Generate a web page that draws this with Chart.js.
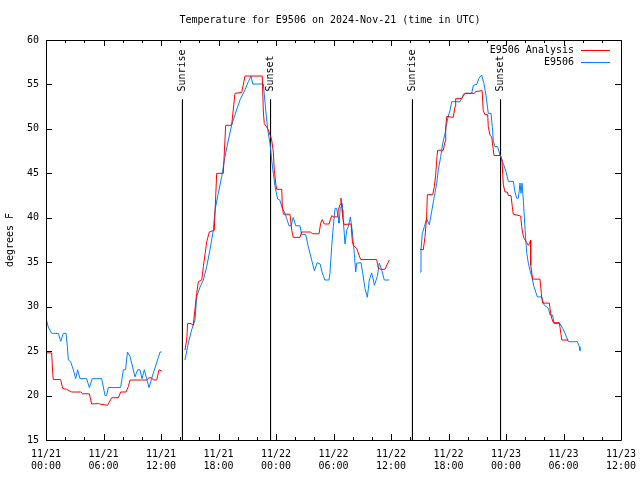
<!DOCTYPE html>
<html>
<head>
<meta charset="utf-8">
<script src="https://cdn.jsdelivr.net/npm/chart.js@4"></script>
<style>
  body { margin: 0; background: #fff; }
  canvas { display: block; }
</style>
</head>
<body>
<canvas id="graph" width="640" height="480"></canvas>
<script>
// hours since 11/21 00:00 UTC, null temp = gap in the record
const analysisHours = [
  0.0, 0.59, 0.7, 0.76, 1.53, 1.74, 2.16, 2.68, 3.62, 3.83, 4.52, 4.76, 5.46, 5.63, 6.43, 6.85, 7.55, 7.79,
  8.35, 8.59, 8.77, 9.98, 10.5, 10.75, 11.02, 11.2, 11.55, 11.79, 12.07,
  13.0,
  14.5, 14.68, 14.78, 15.13, 15.37, 15.72, 15.9, 16.25, 16.42, 16.77, 17.04, 17.56, 17.81, 18.5, 18.75, 19.37,
  19.72, 20.42, 20.77, 22.57, 22.68, 22.78, 23.2, 23.55, 23.72, 23.82, 23.97, 24.07, 24.6, 24.66, 24.77, 25.46,
  25.64, 25.8, 26.5, 26.68, 27.62, 27.8, 28.49, 28.66, 28.83, 29.04, 29.53, 29.81, 29.98, 30.43, 30.5, 30.68,
  30.78, 30.89, 30.96, 31.1, 31.83, 31.97, 32.07, 32.42, 32.66, 32.84, 34.5, 34.68, 34.96, 35.37, 35.62, 35.82,
  37.0,
  39.03, 39.37, 39.55, 39.72, 39.79, 40.35, 40.52, 40.66, 40.8, 40.87, 41.46, 41.64, 41.71, 41.82, 42.5, 42.68,
  42.75, 43.38, 43.55, 43.8, 44.7, 44.83, 45.51, 45.62, 45.8, 46.09, 46.15, 46.33, 46.5, 46.75, 47.44, 47.58,
  47.65, 47.72, 47.9, 48.14, 48.24, 48.52, 48.66, 48.76, 49.53, 49.64, 49.74, 49.88, 50.17, 50.33, 50.43, 50.57,
  50.58, 50.68, 50.78, 51.55, 51.72, 51.83, 52.52, 52.66, 52.77, 52.94, 53.57, 53.72, 53.82, 54.51
];
const analysisTemps = [
  24.8, 24.8, 22.5, 21.8, 21.8, 20.8, 20.7, 20.4, 20.4, 20.2, 20.2, 19.05, 19.1, 19.05, 18.9, 19.75, 19.75, 20.4,
  20.4, 21.0, 21.75, 21.75, 21.75, 22.0, 22.0, 21.75, 21.75, 22.9, 22.75,
  null,
  25.1, 26.25, 28.1, 28.1, 27.9, 31.5, 32.8, 33.0, 34.5, 37.3, 38.4, 38.6, 45.0, 45.0, 50.4, 50.4,
  54.0, 54.1, 55.95, 55.95, 51.9, 50.6, 49.9, 48.75, 47.4, 45.4, 43.9, 43.2, 43.2, 41.3, 40.4, 40.4,
  38.6, 37.8, 37.8, 38.4, 38.4, 38.2, 38.2, 39.4, 39.8, 39.3, 39.3, 40.25, 40.1, 40.1, 40.9, 41.5,
  42.2, 40.9, 40.1, 39.25, 39.3, 37.3, 36.9, 36.55, 35.8, 35.3, 35.3, 34.3, 34.2, 34.2, 34.8, 35.25,
  null,
  36.45, 36.4, 37.9, 40.1, 42.6, 42.6, 43.5, 44.8, 46.9, 47.6, 47.6, 48.6, 50.25, 51.4, 51.3, 52.5,
  53.4, 53.4, 53.8, 54.0, 54.0, 54.2, 54.3, 52.1, 51.6, 51.6, 50.25, 49.3, 49.1, 47.0, 47.0, 46.5,
  45.0, 43.7, 42.9, 42.9, 42.5, 42.5, 41.25, 40.4, 40.2, 39.0, 38.25, 37.7, 37.2, 36.9, 37.1, 37.5,
  34.7, 33.9, 33.1, 33.1, 31.1, 30.4, 30.4, 29.25, 28.7, 28.2, 28.2, 27.0, 26.25, 26.25
];

const stationHours = [
  0.0, 0.24, 0.59, 1.29, 1.53, 1.81, 2.09, 2.23, 2.33, 2.57, 2.85, 3.1, 3.3, 3.55, 4.24, 4.52, 4.83, 5.81,
  6.16, 6.33, 6.5, 7.79, 8.07, 8.3, 8.5, 8.77, 9.29, 9.56, 9.81, 10.02, 10.26, 10.5, 10.75, 11.02, 11.9, 12.07,
  13.0,
  14.5, 14.85, 15.2, 15.55, 15.72, 16.07, 16.42, 16.77, 17.11, 17.46, 17.64, 17.98, 18.33, 18.68, 19.03, 19.37,
  19.72, 20.24, 20.77, 21.11, 21.4, 21.57, 22.68, 22.93, 23.14, 23.37, 23.55, 23.72, 23.9, 24.17, 24.4, 24.66,
  24.94, 25.12, 25.36, 25.57, 25.8, 26.06, 26.5, 26.68, 27.1, 27.37, 27.72, 28.0, 28.3, 28.6, 28.83, 29.1,
  29.53, 29.63, 29.81, 29.98, 30.16, 30.33, 30.5, 30.57, 30.71, 30.92, 31.02, 31.2, 31.38, 31.55, 31.76, 31.97,
  32.17, 32.32, 32.42, 32.87, 33.05, 33.29, 33.53, 33.74, 33.98, 34.16, 34.27, 34.57, 34.78, 35.03, 35.3, 35.82,
  37.0,
  39.03, 39.13, 39.27, 39.48, 39.72, 40.0, 40.24, 40.52, 40.77, 40.94, 41.19, 41.4, 41.64, 41.92, 42.16, 42.34,
  43.2, 43.65, 44.42, 44.59, 44.94, 45.18, 45.46, 45.7, 45.91, 46.15, 46.44, 46.57, 46.68, 46.85, 47.13, 47.37,
  47.72, 48.0, 48.24, 48.76, 48.94, 49.11, 49.29, 49.46, 49.57, 49.67, 49.81, 49.91, 50.06, 50.17, 50.33, 50.5,
  50.68, 50.92, 51.27, 51.72, 51.97, 52.42, 52.6, 52.87, 53.01, 53.64, 53.92, 54.16, 54.51, 55.44, 55.65, 55.72
];
const stationTemps = [
  28.7, 27.7, 27.0, 27.0, 26.1, 27.0, 27.0, 25.5, 24.0, 23.8, 22.9, 21.9, 22.9, 21.9, 21.9, 20.9, 21.9, 21.9,
  20.0, 20.0, 20.9, 20.9, 22.9, 22.9, 24.9, 24.4, 22.1, 22.9, 22.9, 21.9, 22.9, 21.9, 20.9, 21.9, 24.9, 24.9,
  null,
  24.0, 25.9, 27.4, 28.5, 31.1, 32.2, 33.0, 34.5, 36.4, 38.6, 40.9, 42.75, 44.6, 46.9, 48.75, 50.4,
  51.6, 53.25, 54.4, 55.3, 55.95, 55.05, 55.05, 52.1, 49.9, 48.4, 46.5, 45.0, 43.5, 42.1, 42.0, 41.06,
  40.5, 39.9, 39.1, 39.1, 40.05, 39.1, 39.1, 38.1, 38.1, 36.75, 35.25, 34.05, 34.95, 34.8, 33.8, 33.0,
  33.0, 33.75, 36.75, 39.0, 41.06, 41.06, 40.1, 39.4, 41.06, 41.6, 39.75, 37.05, 38.6, 39.0, 40.1, 38.4,
  36.0, 33.9, 34.9, 34.95, 33.75, 32.05, 31.05, 33.0, 33.8, 33.0, 32.4, 33.4, 34.9, 34.1, 33.0, 33.0,
  null,
  33.9, 36.4, 38.25, 39.0, 39.9, 39.2, 40.7, 42.4, 43.9, 45.4, 46.9, 48.4, 49.5, 51.2, 52.1, 53.06,
  53.06, 54.0, 54.0, 54.9, 55.0, 55.7, 56.06, 55.1, 53.8, 51.75, 51.75, 50.25, 48.6, 48.0, 48.0, 47.06,
  46.1, 45.2, 44.1, 44.1, 42.9, 42.2, 42.2, 43.9, 42.75, 43.9, 42.0, 40.1, 37.5, 36.0, 34.9, 34.1,
  33.4, 32.25, 31.1, 31.1, 30.2, 29.8, 29.06, 29.06, 28.1, 28.1, 27.55, 27.0, 26.06, 26.06, 25.5, 25.05
];

const sunLabels = ['Sunrise', 'Sunset', 'Sunrise', 'Sunset'];
const sunHours = [14.24, 23.43, 38.24, 47.43];
const sunLineTop = 53.3;

const xTickLabels = [
  ['11/21', '00:00'], ['11/21', '06:00'], ['11/21', '12:00'], ['11/21', '18:00'],
  ['11/22', '00:00'], ['11/22', '06:00'], ['11/22', '12:00'], ['11/22', '18:00'],
  ['11/23', '00:00'], ['11/23', '06:00'], ['11/23', '12:00']
];
const seriesNames = ['E9506 Analysis', 'E9506'];
const seriesColors = ['#ff0000', '#0080ff'];
const chartTitle = 'Temperature for E9506 on 2024-Nov-21 (time in UTC)';

const FONT = 'DejaVu Sans Mono';

function pairs(xs, ys) {
  return xs.map((x, i) => ({ x: x, y: ys[i] }));
}

const sunSets = sunHours.map(h => ({
  data: [{ x: h, y: sunLineTop }, { x: h, y: 15 }],
  borderColor: '#000',
  borderWidth: 1,
  pointRadius: 0,
}));

// gnuplot-like frame, inward ticks, title, legend and sun labels
const frame = {
  id: 'frame',
  afterDraw(chart) {
    const ctx = chart.ctx;
    const a = chart.chartArea;
    const xs = chart.scales.x, ys = chart.scales.y;
    ctx.save();
    ctx.strokeStyle = '#000';
    ctx.lineWidth = 1;
    ctx.beginPath();
    ctx.rect(Math.round(a.left) + 0.5, Math.round(a.top) + 0.5,
             Math.round(a.right - a.left), Math.round(a.bottom - a.top));
    for (let v = 15; v <= 60; v += 5) {
      const y = Math.round(ys.getPixelForValue(v)) + 0.5;
      ctx.moveTo(a.left, y); ctx.lineTo(a.left + 6, y);
      ctx.moveTo(a.right, y); ctx.lineTo(a.right - 6, y);
    }
    for (let h = 0; h <= 60; h += 2) {
      const x = Math.round(xs.getPixelForValue(h)) + 0.5;
      const len = h % 6 === 0 ? 6 : 3;
      ctx.moveTo(x, a.bottom); ctx.lineTo(x, a.bottom - len);
      ctx.moveTo(x, a.top); ctx.lineTo(x, a.top + len);
    }
    ctx.stroke();

    ctx.fillStyle = '#000';
    ctx.font = '10px "' + FONT + '"';
    ctx.textBaseline = 'middle';
    ctx.textAlign = 'center';
    ctx.fillText(chartTitle, 330, 20);

    // legend
    ctx.textAlign = 'right';
    seriesNames.forEach((name, i) => {
      const y = 50 + i * 12;
      ctx.fillStyle = '#000';
      ctx.fillText(name, 574, y);
      ctx.strokeStyle = seriesColors[i];
      ctx.beginPath();
      ctx.moveTo(581, y + 0.5); ctx.lineTo(610, y + 0.5);
      ctx.stroke();
    });

    // sunrise / sunset labels
    ctx.fillStyle = '#000';
    ctx.textAlign = 'left';
    sunHours.forEach((h, i) => {
      const x = xs.getPixelForValue(h);
      const y = ys.getPixelForValue(sunLineTop) - 8;
      ctx.save();
      ctx.translate(x, y);
      ctx.rotate(-Math.PI / 2);
      ctx.fillText(sunLabels[i], 0, 0);
      ctx.restore();
    });
    ctx.restore();
  }
};

let graph = document.getElementById('graph').getContext('2d');

new Chart(graph, {
  type: 'line',
  data: {
    datasets: [
      {
        label: seriesNames[0],
        data: pairs(analysisHours, analysisTemps),
        borderColor: seriesColors[0],
        borderWidth: 1,
        pointRadius: 0,
      },
      {
        label: seriesNames[1],
        data: pairs(stationHours, stationTemps),
        borderColor: seriesColors[1],
        borderWidth: 1,
        pointRadius: 0,
      },
      ...sunSets
    ],
  },
  options: {
    responsive: false,
    animation: false,
    spanGaps: false,
    layout: { padding: { top: 40, right: 19, left: 0, bottom: 0 } },
    plugins: {
      legend: { display: false },
      title: { display: false },
      tooltip: { enabled: false },
    },
    scales: {
      x: {
        type: 'linear',
        min: 0,
        max: 60,
        afterFit(s) { s.height = 40; s.paddingLeft = 0; s.paddingRight = 0; },
        grid: { display: false, drawTicks: false },
        border: { display: false },
        ticks: {
          stepSize: 6,
          autoSkip: false,
          maxRotation: 0,
          padding: 8,
          color: '#000',
          font: { family: FONT, size: 10 },
          callback: v => xTickLabels[Math.round(v / 6)],
        },
      },
      y: {
        min: 15,
        max: 60,
        afterFit(s) { s.width = 46; s.paddingTop = 0; s.paddingBottom = 0; },
        grid: { display: false, drawTicks: false },
        border: { display: false },
        ticks: {
          stepSize: 5,
          padding: 7,
          color: '#000',
          font: { family: FONT, size: 10 },
        },
        title: {
          display: true,
          text: 'degrees F',
          color: '#000',
          font: { family: FONT, size: 10 },
          padding: { top: 4, bottom: 0 },
        },
      },
    },
  },
  plugins: [frame],
});
</script>
</body>
</html>
